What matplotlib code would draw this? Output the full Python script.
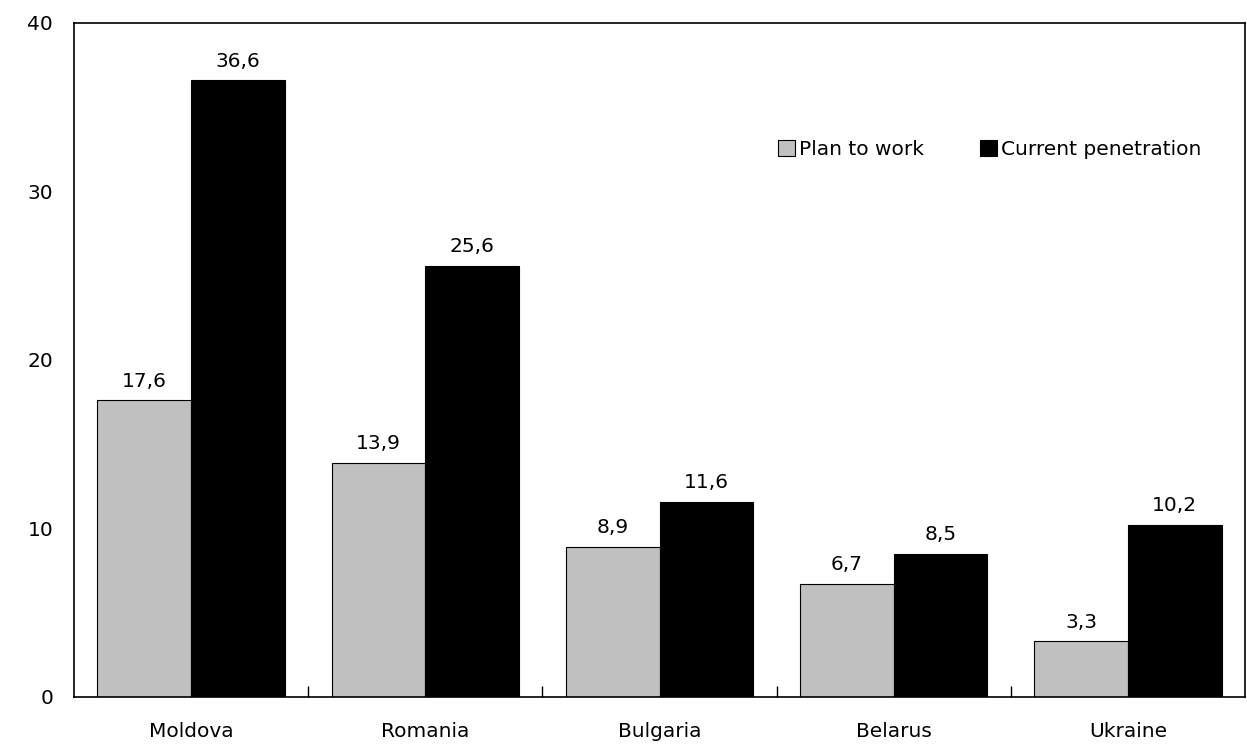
import numpy as np
import matplotlib.pyplot as plt

countries = ["Moldova", "Romania", "Bulgaria", "Belarus", "Ukraine"]
plan_to_work = [17.6, 13.9, 8.9, 6.7, 3.3]
current_penetration = [36.6, 25.6, 11.6, 8.5, 10.2]

plt.rcParams['font.family'] = ['DejaVu Sans']
fs = 14.5

fig = plt.figure(figsize=(12.47, 7.45), dpi=100)
ax = fig.add_axes([74 / 1247, 48 / 745, 1171 / 1247, 674 / 745])

x = np.arange(len(countries))
w = 0.4
b1 = ax.bar(x - w / 2, plan_to_work, w, color='#c0c0c0', edgecolor='black', lw=0.8, label='Plan to work')
b2 = ax.bar(x + w / 2, current_penetration, w, color='black', edgecolor='black', lw=0.8, label='Current penetration')

fmt = lambda v: f"{v:.1f}".replace('.', ',')
ax.bar_label(b1, labels=[fmt(v) for v in plan_to_work], padding=7, fontsize=fs)
ax.bar_label(b2, labels=[fmt(v) for v in current_penetration], padding=7, fontsize=fs)

ax.set_xlim(-0.5, len(countries) - 0.5)
ax.set_ylim(0, 40)
ax.set_yticks([0, 10, 20, 30, 40])
ax.tick_params(axis='y', length=0, pad=15, labelsize=fs)

# category labels centred, tick marks between groups pointing inward
ax.set_xticks(x)
ax.set_xticklabels(countries)
ax.tick_params(axis='x', which='major', length=0, pad=18, labelsize=fs)
ax.set_xticks(np.arange(0.5, len(countries) - 1), minor=True)
ax.tick_params(axis='x', which='minor', direction='in', length=8, width=1)

for s in ax.spines.values():
    s.set_linewidth(1.2)

ax.legend(loc='center', bbox_to_anchor=(0.782, 0.812), ncol=2, frameon=False,
          handlelength=0.85, handleheight=0.85, handletextpad=0.2,
          columnspacing=2.8, fontsize=fs)

fig.savefig('out.png', dpi=100)
